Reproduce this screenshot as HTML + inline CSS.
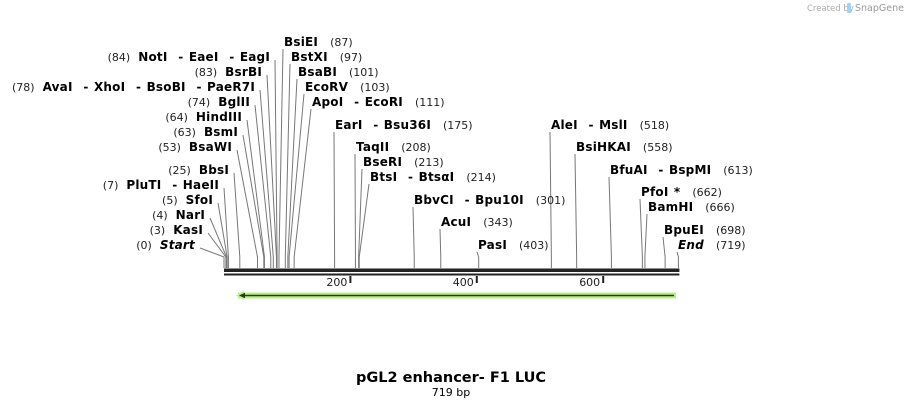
<!DOCTYPE html>
<html><head><meta charset="utf-8"><style>
body{margin:0;background:#fff;}
svg{display:block;font-family:"DejaVu Sans","Liberation Sans",sans-serif;}
text{white-space:pre;}
.n{font-weight:bold;font-size:12px;fill:#000;word-spacing:1px;letter-spacing:0.2px;}
.p{font-size:11px;fill:#222;}
</style></head><body>
<svg id="map" width="904" height="408" viewBox="0 0 904 408" xmlns="http://www.w3.org/2000/svg">
<g>
<text x="807" y="11" font-size="8.5" fill="#aaa">Created by</text>
<rect x="847" y="3" width="4" height="10" rx="1" fill="#9fd3f5"/>
<text x="855" y="11" font-size="9.5" fill="#999">SnapGene</text>
</g>
<g id="leaders"></g>
<g id="labels"></g>
<g>
<rect id="bb1" x="224" y="268.5" width="455" height="3.5" fill="#222"/>
<rect id="bb2" x="224" y="273.5" width="455" height="2" fill="#222"/>
</g>
<g id="ticks"></g>
<g>
<rect x="238" y="292.5" width="438" height="6" fill="#b8ef8a"/>
<polygon points="236,295.5 244,291 244,300" fill="#b8ef8a"/>
<line x1="243" y1="295.5" x2="674" y2="295.5" stroke="#2a3a1a" stroke-width="1.6"/>
<polygon points="239,295.5 245,292.8 245,298.2" fill="#2a3a1a"/>
</g>
<text x="451" y="382" text-anchor="middle" font-weight="bold" font-size="14.5">pGL2 enhancer- F1 LUC</text>
<text x="451" y="396" text-anchor="middle" font-size="11">719 bp</text>
</svg>
<script>
const seqLen = 719;
const tickValues = [200, 400, 600];
const leftSites = [
 ["(84)","NotI  - EaeI  - EagI",84,270,57],
 ["(83)","BsrBI",83,262,72],
 ["(78)","AvaI  - XhoI  - BsoBI  - PaeR7I",78,255,87],
 ["(74)","BglII",74,250,102],
 ["(64)","HindIII",64,242,117],
 ["(63)","BsmI",63,238,132],
 ["(53)","BsaWI",53,232,147],
 ["(25)","BbsI",25,229,170],
 ["(7)","PluTI  - HaeII",7,219,185],
 ["(5)","SfoI",5,213,200],
 ["(4)","NarI",4,205,215],
 ["(3)","KasI",3,203,230],
 ["(0)","Start",0,195,245]
];
const rightSites = [
 ["BsiEI","(87)",87,284,42],
 ["BstXI","(97)",97,291,57],
 ["BsaBI","(101)",101,298,72],
 ["EcoRV","(103)",103,305,87],
 ["ApoI  - EcoRI","(111)",111,312,102],
 ["EarI  - Bsu36I","(175)",175,335,125],
 ["TaqII","(208)",208,356,147],
 ["BseRI","(213)",213,363,162],
 ["BtsI  - BtsαI","(214)",214,370,177],
 ["BbvCI  - Bpu10I","(301)",301,414,200],
 ["AcuI","(343)",343,441,222],
 ["PasI","(403)",403,478,245],
 ["AleI  - MslI","(518)",518,551,125],
 ["BsiHKAI","(558)",558,576,147],
 ["BfuAI  - BspMI","(613)",613,610,170],
 ["PfoI *","(662)",662,641,192],
 ["BamHI","(666)",666,648,207],
 ["BpuEI","(698)",698,664,230],
 ["End","(719)",719,678,245]
];
const NS="http://www.w3.org/2000/svg";
function xScale(bp){return 224+bp*0.632;}
const L=document.getElementById('leaders'),T=document.getElementById('labels'),K=document.getElementById('ticks');
function mk(tag,attrs,parent){const e=document.createElementNS(NS,tag);for(const k in attrs)e.setAttribute(k,attrs[k]);parent.appendChild(e);return e;}
function txt(parent,x,y,cls,s,anchor,italic){const e=mk('text',{x:x,y:y,class:cls,'text-anchor':anchor||'start'},parent);if(italic)e.setAttribute('font-style','italic');e.textContent=s;return e;}
function leader(x0,y0,bp){const sx=xScale(bp);
 const p=mk('polyline',{points:x0+','+y0+' '+sx+',257 '+sx+',268',fill:'none',stroke:'#777','stroke-width':'1'},L);
 
 }
leftSites.forEach(s=>{
 const g=mk('g',{},T);
 
 
 const nm=txt(g,s[3],s[4]+4,'n',s[1],'end',s[1]==='Start');
 const w=nm.getComputedTextLength();
 txt(g,s[3]-w-8,s[4]+4,'p',s[0],'end');
 leader(s[3]+5,s[4]+3,s[2]);
});
rightSites.forEach(s=>{
 const g=mk('g',{},T);
 
 
 const nm=txt(g,s[3],s[4]+4,'n',s[0],'start',s[0]==='End');
 const w=nm.getComputedTextLength();
 txt(g,s[3]+w+12,s[4]+4,'p',s[1],'start');
 leader(s[3]-1,s[4]+7,s[2]);
});
tickValues.forEach(v=>{const x=xScale(v);
 const l=mk('line',{x1:x,y1:276,x2:x,y2:283,stroke:'#222','stroke-width':'2'},K);
 
 
 const t=txt(K,x-3,286,'p',String(v),'end');
 
 
});
const r=xScale(seqLen)-224+1;
document.getElementById('bb1').setAttribute('width',r);
document.getElementById('bb2').setAttribute('width',r);
</script>
</body></html>
